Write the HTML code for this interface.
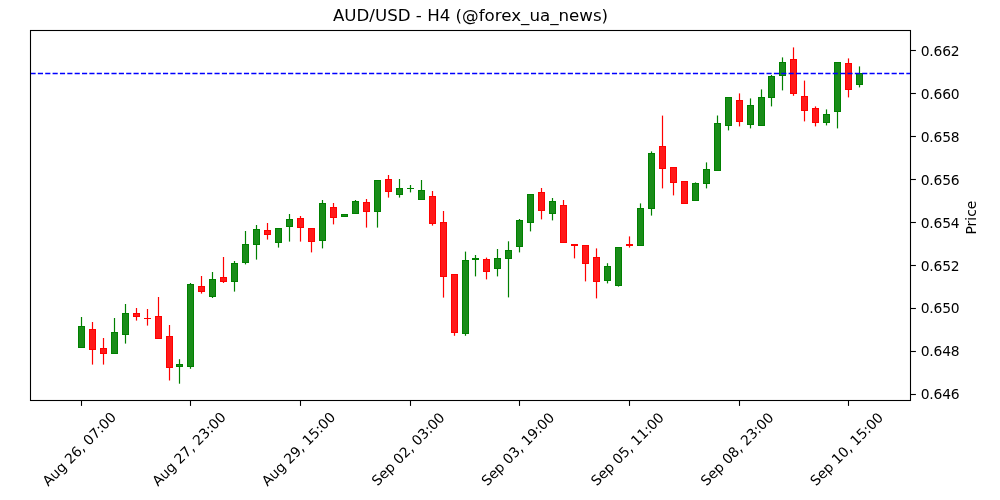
<!DOCTYPE html>
<html lang="en"><head><meta charset="utf-8"><title>AUD/USD - H4</title>
<style>html,body{margin:0;padding:0;background:#fff;width:1000px;height:500px;overflow:hidden}svg{display:block}text{font-family:"DejaVu Sans","Liberation Sans",sans-serif;fill:#000}.t{font-size:13.889px}.h{font-size:16.667px}</style></head><body>
<svg width="1000" height="500" viewBox="0 0 1000 500">
<rect width="1000" height="500" fill="#fff"/>
<g>
<line x1="81.5" x2="81.5" y1="317.00" y2="326.80" stroke="#008000" stroke-width="1.2"/>
<rect x="78.5" y="326.50" width="6" height="21.00" fill="#008000" stroke="#008000" fill-opacity=".9"/>
<line x1="92.5" x2="92.5" y1="322.00" y2="329.80" stroke="#ff0000" stroke-width="1.2"/>
<line x1="92.5" x2="92.5" y1="349.20" y2="364.60" stroke="#ff0000" stroke-width="1.2"/>
<rect x="89.5" y="329.50" width="6" height="20.00" fill="#ff0000" stroke="#ff0000" fill-opacity=".9"/>
<line x1="103.5" x2="103.5" y1="338.00" y2="348.80" stroke="#ff0000" stroke-width="1.2"/>
<line x1="103.5" x2="103.5" y1="353.20" y2="364.60" stroke="#ff0000" stroke-width="1.2"/>
<rect x="100.5" y="348.50" width="6" height="5.00" fill="#ff0000" stroke="#ff0000" fill-opacity=".9"/>
<line x1="114.5" x2="114.5" y1="318.00" y2="332.80" stroke="#008000" stroke-width="1.2"/>
<rect x="111.5" y="332.50" width="6" height="21.00" fill="#008000" stroke="#008000" fill-opacity=".9"/>
<line x1="125.5" x2="125.5" y1="304.00" y2="313.80" stroke="#008000" stroke-width="1.2"/>
<line x1="125.5" x2="125.5" y1="334.20" y2="343.60" stroke="#008000" stroke-width="1.2"/>
<rect x="122.5" y="313.50" width="6" height="21.00" fill="#008000" stroke="#008000" fill-opacity=".9"/>
<line x1="136.5" x2="136.5" y1="308.00" y2="313.80" stroke="#ff0000" stroke-width="1.2"/>
<line x1="136.5" x2="136.5" y1="316.20" y2="320.60" stroke="#ff0000" stroke-width="1.2"/>
<rect x="133.5" y="313.50" width="6" height="3.00" fill="#ff0000" stroke="#ff0000" fill-opacity=".9"/>
<line x1="147.5" x2="147.5" y1="309.00" y2="318.80" stroke="#ff0000" stroke-width="1.2"/>
<line x1="147.5" x2="147.5" y1="318.20" y2="325.60" stroke="#ff0000" stroke-width="1.2"/>
<rect x="144.0" y="318.00" width="7" height="1.00" fill="#ff0000"/>
<line x1="158.5" x2="158.5" y1="297.00" y2="316.80" stroke="#ff0000" stroke-width="1.2"/>
<rect x="155.5" y="316.50" width="6" height="22.00" fill="#ff0000" stroke="#ff0000" fill-opacity=".9"/>
<line x1="169.5" x2="169.5" y1="325.00" y2="336.80" stroke="#ff0000" stroke-width="1.2"/>
<line x1="169.5" x2="169.5" y1="367.20" y2="380.50" stroke="#ff0000" stroke-width="1.2"/>
<rect x="166.5" y="336.50" width="6" height="31.00" fill="#ff0000" stroke="#ff0000" fill-opacity=".9"/>
<line x1="179.5" x2="179.5" y1="359.20" y2="364.80" stroke="#008000" stroke-width="1.2"/>
<line x1="179.5" x2="179.5" y1="366.20" y2="383.70" stroke="#008000" stroke-width="1.2"/>
<rect x="176.5" y="364.50" width="6" height="2.00" fill="#008000" stroke="#008000" fill-opacity=".9"/>
<line x1="190.5" x2="190.5" y1="283.00" y2="284.80" stroke="#008000" stroke-width="1.2"/>
<line x1="190.5" x2="190.5" y1="366.20" y2="368.80" stroke="#008000" stroke-width="1.2"/>
<rect x="187.5" y="284.50" width="6" height="82.00" fill="#008000" stroke="#008000" fill-opacity=".9"/>
<line x1="201.5" x2="201.5" y1="276.00" y2="286.80" stroke="#ff0000" stroke-width="1.2"/>
<line x1="201.5" x2="201.5" y1="291.20" y2="293.60" stroke="#ff0000" stroke-width="1.2"/>
<rect x="198.5" y="286.50" width="6" height="5.00" fill="#ff0000" stroke="#ff0000" fill-opacity=".9"/>
<line x1="212.5" x2="212.5" y1="272.00" y2="279.80" stroke="#008000" stroke-width="1.2"/>
<line x1="212.5" x2="212.5" y1="296.20" y2="298.00" stroke="#008000" stroke-width="1.2"/>
<rect x="209.5" y="279.50" width="6" height="17.00" fill="#008000" stroke="#008000" fill-opacity=".9"/>
<line x1="223.5" x2="223.5" y1="257.00" y2="277.80" stroke="#ff0000" stroke-width="1.2"/>
<line x1="223.5" x2="223.5" y1="281.20" y2="283.00" stroke="#ff0000" stroke-width="1.2"/>
<rect x="220.5" y="277.50" width="6" height="4.00" fill="#ff0000" stroke="#ff0000" fill-opacity=".9"/>
<line x1="234.5" x2="234.5" y1="261.00" y2="263.80" stroke="#008000" stroke-width="1.2"/>
<line x1="234.5" x2="234.5" y1="281.20" y2="291.60" stroke="#008000" stroke-width="1.2"/>
<rect x="231.5" y="263.50" width="6" height="18.00" fill="#008000" stroke="#008000" fill-opacity=".9"/>
<line x1="245.5" x2="245.5" y1="231.00" y2="244.80" stroke="#008000" stroke-width="1.2"/>
<line x1="245.5" x2="245.5" y1="262.20" y2="264.40" stroke="#008000" stroke-width="1.2"/>
<rect x="242.5" y="244.50" width="6" height="18.00" fill="#008000" stroke="#008000" fill-opacity=".9"/>
<line x1="256.5" x2="256.5" y1="225.00" y2="229.80" stroke="#008000" stroke-width="1.2"/>
<line x1="256.5" x2="256.5" y1="244.20" y2="259.60" stroke="#008000" stroke-width="1.2"/>
<rect x="253.5" y="229.50" width="6" height="15.00" fill="#008000" stroke="#008000" fill-opacity=".9"/>
<line x1="267.5" x2="267.5" y1="223.00" y2="230.80" stroke="#ff0000" stroke-width="1.2"/>
<line x1="267.5" x2="267.5" y1="234.20" y2="239.60" stroke="#ff0000" stroke-width="1.2"/>
<rect x="264.5" y="230.50" width="6" height="4.00" fill="#ff0000" stroke="#ff0000" fill-opacity=".9"/>
<line x1="278.5" x2="278.5" y1="242.20" y2="247.60" stroke="#008000" stroke-width="1.2"/>
<rect x="275.5" y="228.50" width="6" height="14.00" fill="#008000" stroke="#008000" fill-opacity=".9"/>
<line x1="289.5" x2="289.5" y1="214.00" y2="219.80" stroke="#008000" stroke-width="1.2"/>
<line x1="289.5" x2="289.5" y1="226.20" y2="241.60" stroke="#008000" stroke-width="1.2"/>
<rect x="286.5" y="219.50" width="6" height="7.00" fill="#008000" stroke="#008000" fill-opacity=".9"/>
<line x1="300.5" x2="300.5" y1="216.00" y2="218.80" stroke="#ff0000" stroke-width="1.2"/>
<line x1="300.5" x2="300.5" y1="227.20" y2="241.60" stroke="#ff0000" stroke-width="1.2"/>
<rect x="297.5" y="218.50" width="6" height="9.00" fill="#ff0000" stroke="#ff0000" fill-opacity=".9"/>
<line x1="311.5" x2="311.5" y1="241.20" y2="252.40" stroke="#ff0000" stroke-width="1.2"/>
<rect x="308.5" y="228.50" width="6" height="13.00" fill="#ff0000" stroke="#ff0000" fill-opacity=".9"/>
<line x1="322.5" x2="322.5" y1="200.00" y2="203.80" stroke="#008000" stroke-width="1.2"/>
<line x1="322.5" x2="322.5" y1="240.20" y2="248.40" stroke="#008000" stroke-width="1.2"/>
<rect x="319.5" y="203.50" width="6" height="37.00" fill="#008000" stroke="#008000" fill-opacity=".9"/>
<line x1="333.5" x2="333.5" y1="203.00" y2="207.80" stroke="#ff0000" stroke-width="1.2"/>
<line x1="333.5" x2="333.5" y1="217.20" y2="224.40" stroke="#ff0000" stroke-width="1.2"/>
<rect x="330.5" y="207.50" width="6" height="10.00" fill="#ff0000" stroke="#ff0000" fill-opacity=".9"/>
<rect x="341.5" y="214.50" width="6" height="2.00" fill="#008000" stroke="#008000" fill-opacity=".9"/>
<line x1="355.5" x2="355.5" y1="200.00" y2="201.80" stroke="#008000" stroke-width="1.2"/>
<rect x="352.5" y="201.50" width="6" height="12.00" fill="#008000" stroke="#008000" fill-opacity=".9"/>
<line x1="366.5" x2="366.5" y1="199.00" y2="202.80" stroke="#ff0000" stroke-width="1.2"/>
<line x1="366.5" x2="366.5" y1="211.20" y2="227.60" stroke="#ff0000" stroke-width="1.2"/>
<rect x="363.5" y="202.50" width="6" height="9.00" fill="#ff0000" stroke="#ff0000" fill-opacity=".9"/>
<line x1="377.5" x2="377.5" y1="211.20" y2="227.60" stroke="#008000" stroke-width="1.2"/>
<rect x="374.5" y="180.50" width="6" height="31.00" fill="#008000" stroke="#008000" fill-opacity=".9"/>
<line x1="388.5" x2="388.5" y1="175.00" y2="179.80" stroke="#ff0000" stroke-width="1.2"/>
<line x1="388.5" x2="388.5" y1="191.20" y2="197.60" stroke="#ff0000" stroke-width="1.2"/>
<rect x="385.5" y="179.50" width="6" height="12.00" fill="#ff0000" stroke="#ff0000" fill-opacity=".9"/>
<line x1="399.5" x2="399.5" y1="179.00" y2="188.80" stroke="#008000" stroke-width="1.2"/>
<line x1="399.5" x2="399.5" y1="194.20" y2="197.60" stroke="#008000" stroke-width="1.2"/>
<rect x="396.5" y="188.50" width="6" height="6.00" fill="#008000" stroke="#008000" fill-opacity=".9"/>
<line x1="410.5" x2="410.5" y1="185.00" y2="188.80" stroke="#008000" stroke-width="1.2"/>
<line x1="410.5" x2="410.5" y1="188.20" y2="192.40" stroke="#008000" stroke-width="1.2"/>
<rect x="407.0" y="188.00" width="7" height="1.00" fill="#008000"/>
<line x1="421.5" x2="421.5" y1="180.00" y2="190.80" stroke="#008000" stroke-width="1.2"/>
<rect x="418.5" y="190.50" width="6" height="9.00" fill="#008000" stroke="#008000" fill-opacity=".9"/>
<line x1="432.5" x2="432.5" y1="191.00" y2="196.80" stroke="#ff0000" stroke-width="1.2"/>
<line x1="432.5" x2="432.5" y1="223.20" y2="225.60" stroke="#ff0000" stroke-width="1.2"/>
<rect x="429.5" y="196.50" width="6" height="27.00" fill="#ff0000" stroke="#ff0000" fill-opacity=".9"/>
<line x1="443.5" x2="443.5" y1="211.00" y2="222.80" stroke="#ff0000" stroke-width="1.2"/>
<line x1="443.5" x2="443.5" y1="276.20" y2="297.60" stroke="#ff0000" stroke-width="1.2"/>
<rect x="440.5" y="222.50" width="6" height="54.00" fill="#ff0000" stroke="#ff0000" fill-opacity=".9"/>
<line x1="454.5" x2="454.5" y1="332.20" y2="335.80" stroke="#ff0000" stroke-width="1.2"/>
<rect x="451.5" y="274.50" width="6" height="58.00" fill="#ff0000" stroke="#ff0000" fill-opacity=".9"/>
<line x1="465.5" x2="465.5" y1="251.60" y2="260.80" stroke="#008000" stroke-width="1.2"/>
<line x1="465.5" x2="465.5" y1="333.20" y2="335.80" stroke="#008000" stroke-width="1.2"/>
<rect x="462.5" y="260.50" width="6" height="73.00" fill="#008000" stroke="#008000" fill-opacity=".9"/>
<line x1="475.5" x2="475.5" y1="255.00" y2="258.80" stroke="#008000" stroke-width="1.2"/>
<line x1="475.5" x2="475.5" y1="259.20" y2="276.40" stroke="#008000" stroke-width="1.2"/>
<rect x="472.0" y="258.00" width="7" height="2.00" fill="#008000"/>
<line x1="486.5" x2="486.5" y1="257.60" y2="259.80" stroke="#ff0000" stroke-width="1.2"/>
<line x1="486.5" x2="486.5" y1="271.20" y2="279.40" stroke="#ff0000" stroke-width="1.2"/>
<rect x="483.5" y="259.50" width="6" height="12.00" fill="#ff0000" stroke="#ff0000" fill-opacity=".9"/>
<line x1="497.5" x2="497.5" y1="249.00" y2="258.80" stroke="#008000" stroke-width="1.2"/>
<line x1="497.5" x2="497.5" y1="268.20" y2="276.40" stroke="#008000" stroke-width="1.2"/>
<rect x="494.5" y="258.50" width="6" height="10.00" fill="#008000" stroke="#008000" fill-opacity=".9"/>
<line x1="508.5" x2="508.5" y1="241.30" y2="250.80" stroke="#008000" stroke-width="1.2"/>
<line x1="508.5" x2="508.5" y1="258.20" y2="297.40" stroke="#008000" stroke-width="1.2"/>
<rect x="505.5" y="250.50" width="6" height="8.00" fill="#008000" stroke="#008000" fill-opacity=".9"/>
<line x1="519.5" x2="519.5" y1="219.00" y2="220.80" stroke="#008000" stroke-width="1.2"/>
<line x1="519.5" x2="519.5" y1="246.20" y2="252.40" stroke="#008000" stroke-width="1.2"/>
<rect x="516.5" y="220.50" width="6" height="26.00" fill="#008000" stroke="#008000" fill-opacity=".9"/>
<line x1="530.5" x2="530.5" y1="222.20" y2="231.40" stroke="#008000" stroke-width="1.2"/>
<rect x="527.5" y="194.50" width="6" height="28.00" fill="#008000" stroke="#008000" fill-opacity=".9"/>
<line x1="541.5" x2="541.5" y1="188.00" y2="192.80" stroke="#ff0000" stroke-width="1.2"/>
<line x1="541.5" x2="541.5" y1="210.20" y2="219.40" stroke="#ff0000" stroke-width="1.2"/>
<rect x="538.5" y="192.50" width="6" height="18.00" fill="#ff0000" stroke="#ff0000" fill-opacity=".9"/>
<line x1="552.5" x2="552.5" y1="198.00" y2="201.80" stroke="#008000" stroke-width="1.2"/>
<line x1="552.5" x2="552.5" y1="213.20" y2="220.40" stroke="#008000" stroke-width="1.2"/>
<rect x="549.5" y="201.50" width="6" height="12.00" fill="#008000" stroke="#008000" fill-opacity=".9"/>
<line x1="563.5" x2="563.5" y1="200.00" y2="205.80" stroke="#ff0000" stroke-width="1.2"/>
<rect x="560.5" y="205.50" width="6" height="37.00" fill="#ff0000" stroke="#ff0000" fill-opacity=".9"/>
<line x1="574.5" x2="574.5" y1="245.20" y2="258.40" stroke="#ff0000" stroke-width="1.2"/>
<rect x="571.0" y="244.00" width="7" height="2.00" fill="#ff0000"/>
<line x1="585.5" x2="585.5" y1="263.20" y2="281.40" stroke="#ff0000" stroke-width="1.2"/>
<rect x="582.5" y="245.50" width="6" height="18.00" fill="#ff0000" stroke="#ff0000" fill-opacity=".9"/>
<line x1="596.5" x2="596.5" y1="248.40" y2="257.80" stroke="#ff0000" stroke-width="1.2"/>
<line x1="596.5" x2="596.5" y1="281.20" y2="298.40" stroke="#ff0000" stroke-width="1.2"/>
<rect x="593.5" y="257.50" width="6" height="24.00" fill="#ff0000" stroke="#ff0000" fill-opacity=".9"/>
<line x1="607.5" x2="607.5" y1="263.20" y2="266.80" stroke="#008000" stroke-width="1.2"/>
<line x1="607.5" x2="607.5" y1="280.20" y2="283.40" stroke="#008000" stroke-width="1.2"/>
<rect x="604.5" y="266.50" width="6" height="14.00" fill="#008000" stroke="#008000" fill-opacity=".9"/>
<line x1="618.5" x2="618.5" y1="285.20" y2="286.60" stroke="#008000" stroke-width="1.2"/>
<rect x="615.5" y="247.50" width="6" height="38.00" fill="#008000" stroke="#008000" fill-opacity=".9"/>
<line x1="629.5" x2="629.5" y1="236.40" y2="244.80" stroke="#ff0000" stroke-width="1.2"/>
<line x1="629.5" x2="629.5" y1="245.20" y2="247.60" stroke="#ff0000" stroke-width="1.2"/>
<rect x="626.0" y="244.00" width="7" height="2.00" fill="#ff0000"/>
<line x1="640.5" x2="640.5" y1="203.40" y2="208.80" stroke="#008000" stroke-width="1.2"/>
<rect x="637.5" y="208.50" width="6" height="37.00" fill="#008000" stroke="#008000" fill-opacity=".9"/>
<line x1="651.5" x2="651.5" y1="151.40" y2="153.80" stroke="#008000" stroke-width="1.2"/>
<line x1="651.5" x2="651.5" y1="208.20" y2="215.60" stroke="#008000" stroke-width="1.2"/>
<rect x="648.5" y="153.50" width="6" height="55.00" fill="#008000" stroke="#008000" fill-opacity=".9"/>
<line x1="662.5" x2="662.5" y1="115.60" y2="146.80" stroke="#ff0000" stroke-width="1.2"/>
<line x1="662.5" x2="662.5" y1="168.20" y2="188.40" stroke="#ff0000" stroke-width="1.2"/>
<rect x="659.5" y="146.50" width="6" height="22.00" fill="#ff0000" stroke="#ff0000" fill-opacity=".9"/>
<line x1="673.5" x2="673.5" y1="182.20" y2="195.40" stroke="#ff0000" stroke-width="1.2"/>
<rect x="670.5" y="167.50" width="6" height="15.00" fill="#ff0000" stroke="#ff0000" fill-opacity=".9"/>
<rect x="681.5" y="181.50" width="6" height="22.00" fill="#ff0000" stroke="#ff0000" fill-opacity=".9"/>
<line x1="695.5" x2="695.5" y1="182.40" y2="183.80" stroke="#008000" stroke-width="1.2"/>
<rect x="692.5" y="183.50" width="6" height="17.00" fill="#008000" stroke="#008000" fill-opacity=".9"/>
<line x1="706.5" x2="706.5" y1="162.40" y2="169.80" stroke="#008000" stroke-width="1.2"/>
<line x1="706.5" x2="706.5" y1="183.20" y2="188.40" stroke="#008000" stroke-width="1.2"/>
<rect x="703.5" y="169.50" width="6" height="14.00" fill="#008000" stroke="#008000" fill-opacity=".9"/>
<line x1="717.5" x2="717.5" y1="115.50" y2="123.80" stroke="#008000" stroke-width="1.2"/>
<rect x="714.5" y="123.50" width="6" height="47.00" fill="#008000" stroke="#008000" fill-opacity=".9"/>
<line x1="728.5" x2="728.5" y1="125.20" y2="130.40" stroke="#008000" stroke-width="1.2"/>
<rect x="725.5" y="97.50" width="6" height="28.00" fill="#008000" stroke="#008000" fill-opacity=".9"/>
<line x1="739.5" x2="739.5" y1="93.40" y2="100.80" stroke="#ff0000" stroke-width="1.2"/>
<line x1="739.5" x2="739.5" y1="121.20" y2="126.40" stroke="#ff0000" stroke-width="1.2"/>
<rect x="736.5" y="100.50" width="6" height="21.00" fill="#ff0000" stroke="#ff0000" fill-opacity=".9"/>
<line x1="750.5" x2="750.5" y1="98.40" y2="105.80" stroke="#008000" stroke-width="1.2"/>
<line x1="750.5" x2="750.5" y1="124.20" y2="128.40" stroke="#008000" stroke-width="1.2"/>
<rect x="747.5" y="105.50" width="6" height="19.00" fill="#008000" stroke="#008000" fill-opacity=".9"/>
<line x1="761.5" x2="761.5" y1="89.40" y2="97.80" stroke="#008000" stroke-width="1.2"/>
<rect x="758.5" y="97.50" width="6" height="28.00" fill="#008000" stroke="#008000" fill-opacity=".9"/>
<line x1="771.5" x2="771.5" y1="75.00" y2="76.80" stroke="#008000" stroke-width="1.2"/>
<line x1="771.5" x2="771.5" y1="97.20" y2="106.40" stroke="#008000" stroke-width="1.2"/>
<rect x="768.5" y="76.50" width="6" height="21.00" fill="#008000" stroke="#008000" fill-opacity=".9"/>
<line x1="782.5" x2="782.5" y1="57.40" y2="62.80" stroke="#008000" stroke-width="1.2"/>
<line x1="782.5" x2="782.5" y1="75.20" y2="90.40" stroke="#008000" stroke-width="1.2"/>
<rect x="779.5" y="62.50" width="6" height="13.00" fill="#008000" stroke="#008000" fill-opacity=".9"/>
<line x1="793.5" x2="793.5" y1="47.40" y2="59.80" stroke="#ff0000" stroke-width="1.2"/>
<line x1="793.5" x2="793.5" y1="93.20" y2="95.80" stroke="#ff0000" stroke-width="1.2"/>
<rect x="790.5" y="59.50" width="6" height="34.00" fill="#ff0000" stroke="#ff0000" fill-opacity=".9"/>
<line x1="804.5" x2="804.5" y1="80.60" y2="96.80" stroke="#ff0000" stroke-width="1.2"/>
<line x1="804.5" x2="804.5" y1="110.20" y2="121.40" stroke="#ff0000" stroke-width="1.2"/>
<rect x="801.5" y="96.50" width="6" height="14.00" fill="#ff0000" stroke="#ff0000" fill-opacity=".9"/>
<line x1="815.5" x2="815.5" y1="106.40" y2="108.80" stroke="#ff0000" stroke-width="1.2"/>
<line x1="815.5" x2="815.5" y1="122.20" y2="126.40" stroke="#ff0000" stroke-width="1.2"/>
<rect x="812.5" y="108.50" width="6" height="14.00" fill="#ff0000" stroke="#ff0000" fill-opacity=".9"/>
<line x1="826.5" x2="826.5" y1="109.40" y2="114.80" stroke="#008000" stroke-width="1.2"/>
<line x1="826.5" x2="826.5" y1="122.20" y2="125.40" stroke="#008000" stroke-width="1.2"/>
<rect x="823.5" y="114.50" width="6" height="8.00" fill="#008000" stroke="#008000" fill-opacity=".9"/>
<line x1="837.5" x2="837.5" y1="111.20" y2="128.40" stroke="#008000" stroke-width="1.2"/>
<rect x="834.5" y="62.50" width="6" height="49.00" fill="#008000" stroke="#008000" fill-opacity=".9"/>
<line x1="848.5" x2="848.5" y1="58.40" y2="63.80" stroke="#ff0000" stroke-width="1.2"/>
<line x1="848.5" x2="848.5" y1="89.20" y2="97.40" stroke="#ff0000" stroke-width="1.2"/>
<rect x="845.5" y="63.50" width="6" height="26.00" fill="#ff0000" stroke="#ff0000" fill-opacity=".9"/>
<line x1="859.5" x2="859.5" y1="66.40" y2="73.80" stroke="#008000" stroke-width="1.2"/>
<line x1="859.5" x2="859.5" y1="84.20" y2="87.40" stroke="#008000" stroke-width="1.2"/>
<rect x="856.5" y="73.50" width="6" height="11.00" fill="#008000" stroke="#008000" fill-opacity=".9"/>
</g>
<line x1="30.5" x2="910.5" y1="73.5" y2="73.5" stroke="#0000ff" stroke-width="1.39" stroke-dasharray="5.14 2.22"/>
<rect x="30.5" y="30.5" width="880" height="370" fill="none" stroke="#000" stroke-width="1.1"/>
<g stroke="#000" stroke-width="1.1">
<line x1="81.5" x2="81.5" y1="400.5" y2="405.9"/>
<line x1="190.5" x2="190.5" y1="400.5" y2="405.9"/>
<line x1="300.5" x2="300.5" y1="400.5" y2="405.9"/>
<line x1="410.5" x2="410.5" y1="400.5" y2="405.9"/>
<line x1="519.5" x2="519.5" y1="400.5" y2="405.9"/>
<line x1="629.5" x2="629.5" y1="400.5" y2="405.9"/>
<line x1="739.5" x2="739.5" y1="400.5" y2="405.9"/>
<line x1="848.5" x2="848.5" y1="400.5" y2="405.9"/>
<line x1="910.5" x2="915.9" y1="50.5" y2="50.5"/>
<line x1="910.5" x2="915.9" y1="93.5" y2="93.5"/>
<line x1="910.5" x2="915.9" y1="136.5" y2="136.5"/>
<line x1="910.5" x2="915.9" y1="179.5" y2="179.5"/>
<line x1="910.5" x2="915.9" y1="222.5" y2="222.5"/>
<line x1="910.5" x2="915.9" y1="265.5" y2="265.5"/>
<line x1="910.5" x2="915.9" y1="308.5" y2="308.5"/>
<line x1="910.5" x2="915.9" y1="351.5" y2="351.5"/>
<line x1="910.5" x2="915.9" y1="394.5" y2="394.5"/>
</g>
<g class="t" letter-spacing="-0.2">
<text x="920.7" y="55.80">0.662</text>
<text x="920.7" y="98.80">0.660</text>
<text x="920.7" y="141.80">0.658</text>
<text x="920.7" y="184.80">0.656</text>
<text x="920.7" y="227.80">0.654</text>
<text x="920.7" y="270.80">0.652</text>
<text x="920.7" y="312.80">0.650</text>
<text x="920.7" y="355.80">0.648</text>
<text x="920.7" y="398.80">0.646</text>
</g>
<g class="t" text-anchor="middle" letter-spacing="-0.07">
<text transform="translate(80.20,450.0) rotate(-45)" y="3.5">Aug 26, 07:00</text>
<text transform="translate(189.83,450.0) rotate(-45)" y="3.5">Aug 27, 23:00</text>
<text transform="translate(299.46,450.0) rotate(-45)" y="3.5">Aug 29, 15:00</text>
<text transform="translate(409.09,450.0) rotate(-45)" y="3.5">Sep 02, 03:00</text>
<text transform="translate(518.72,450.0) rotate(-45)" y="3.5">Sep 03, 19:00</text>
<text transform="translate(628.35,450.0) rotate(-45)" y="3.5">Sep 05, 11:00</text>
<text transform="translate(737.98,450.0) rotate(-45)" y="3.5">Sep 08, 23:00</text>
<text transform="translate(847.61,450.0) rotate(-45)" y="3.5">Sep 10, 15:00</text>
</g>
<text class="h" text-anchor="middle" x="470.5" y="21.4">AUD/USD - H4 (@forex_ua_news)</text>
<text class="t" text-anchor="middle" transform="translate(976.0,217.6) rotate(-90)">Price</text>
</svg></body></html>
